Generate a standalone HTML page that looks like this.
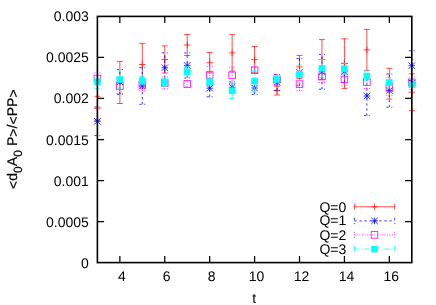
<!DOCTYPE html>
<html><head><meta charset="utf-8"><title>plot</title>
<style>html,body{margin:0;padding:0;background:#fff;}body{width:436px;height:305px;overflow:hidden;font-family:"Liberation Sans",sans-serif;}</style>
</head><body>
<svg width="436" height="305" viewBox="0 0 436 305" style="display:block;will-change:transform">
<rect width="436" height="305" fill="#fff"/>
<g font-family="Liberation Sans, sans-serif" font-size="14" fill="#000" text-rendering="geometricPrecision">
<text x="88.8" y="267.60" text-anchor="end">0</text>
<text x="88.8" y="226.57" text-anchor="end">0.0005</text>
<text x="88.8" y="185.53" text-anchor="end">0.001</text>
<text x="88.8" y="144.50" text-anchor="end">0.0015</text>
<text x="88.8" y="103.47" text-anchor="end">0.002</text>
<text x="88.8" y="62.43" text-anchor="end">0.0025</text>
<text x="88.8" y="20.50" text-anchor="end">0.003</text>
<text x="121.86" y="281.1" text-anchor="middle">4</text>
<text x="166.77" y="281.1" text-anchor="middle">6</text>
<text x="211.69" y="281.1" text-anchor="middle">8</text>
<text x="256.60" y="281.1" text-anchor="middle">10</text>
<text x="301.51" y="281.1" text-anchor="middle">12</text>
<text x="346.43" y="281.1" text-anchor="middle">14</text>
<text x="391.34" y="281.1" text-anchor="middle">16</text>
<text x="254.3" y="303" text-anchor="middle">t</text>
<text transform="translate(17.2,189.0) rotate(-90)" letter-spacing="0.05" stroke="#000" stroke-width="0.2"><tspan dy="1.2">&lt;</tspan><tspan dy="-1.2">d</tspan><tspan font-size="12" dy="4.4">0</tspan><tspan dy="-4.4">A</tspan><tspan font-size="12" dy="4.4">0</tspan><tspan dy="-4.4"> P</tspan><tspan dy="1.2">&gt;</tspan><tspan dy="-1.2">/</tspan><tspan dy="1.2">&lt;</tspan><tspan dy="-1.2">PP</tspan><tspan dy="1.2">&gt;</tspan></text>
<text x="346.3" y="211.5" text-anchor="end">Q=0</text>
<text x="346.3" y="225.3" text-anchor="end">Q=1</text>
<text x="346.3" y="239.8" text-anchor="end">Q=2</text>
<text x="346.3" y="253.8" text-anchor="end">Q=3</text>
</g>
<g>
<path d="M354.40 206.80H394.70M354.40 203.80V209.80M394.70 203.80V209.80" stroke="#ff0000" stroke-width="0.7" fill="none"/>
<path d="M371.20 206.80H377.80M374.50 203.50V210.10" stroke="#ff0000" stroke-width="0.7" fill="none"/>
<path d="M97.40 120.30V96.30M94.40 120.30H100.40M94.40 96.30H100.40" stroke="#ff0000" stroke-width="0.7" fill="none"/>
<path d="M94.10 108.30H100.70M97.40 105.00V111.60" stroke="#ff0000" stroke-width="0.7" fill="none"/>
<path d="M119.86 103.50V61.50M116.86 103.50H122.86M116.86 61.50H122.86" stroke="#ff0000" stroke-width="0.7" fill="none"/>
<path d="M116.56 82.50H123.16M119.86 79.20V85.80" stroke="#ff0000" stroke-width="0.7" fill="none"/>
<path d="M142.31 85.60V43.40M139.31 85.60H145.31M139.31 43.40H145.31" stroke="#ff0000" stroke-width="0.7" fill="none"/>
<path d="M139.01 64.50H145.61M142.31 61.20V67.80" stroke="#ff0000" stroke-width="0.7" fill="none"/>
<path d="M164.77 73.10V45.90M161.77 73.10H167.77M161.77 45.90H167.77" stroke="#ff0000" stroke-width="0.7" fill="none"/>
<path d="M161.47 59.50H168.07M164.77 56.20V62.80" stroke="#ff0000" stroke-width="0.7" fill="none"/>
<path d="M187.23 55.50V34.50M184.23 55.50H190.23M184.23 34.50H190.23" stroke="#ff0000" stroke-width="0.7" fill="none"/>
<path d="M183.93 45.00H190.53M187.23 41.70V48.30" stroke="#ff0000" stroke-width="0.7" fill="none"/>
<path d="M209.69 72.90V52.50M206.69 72.90H212.69M206.69 52.50H212.69" stroke="#ff0000" stroke-width="0.7" fill="none"/>
<path d="M206.39 62.70H212.99M209.69 59.40V66.00" stroke="#ff0000" stroke-width="0.7" fill="none"/>
<path d="M232.14 71.20V34.60M229.14 71.20H235.14M229.14 34.60H235.14" stroke="#ff0000" stroke-width="0.7" fill="none"/>
<path d="M228.84 52.90H235.44M232.14 49.60V56.20" stroke="#ff0000" stroke-width="0.7" fill="none"/>
<path d="M254.60 72.20V46.50M251.60 72.20H257.60M251.60 46.50H257.60" stroke="#ff0000" stroke-width="0.7" fill="none"/>
<path d="M251.30 59.60H257.90M254.60 56.30V62.90" stroke="#ff0000" stroke-width="0.7" fill="none"/>
<path d="M277.06 95.00V86.20M274.06 95.00H280.06M274.06 86.20H280.06" stroke="#ff0000" stroke-width="0.7" fill="none"/>
<path d="M273.76 90.60H280.36M277.06 87.30V93.90" stroke="#ff0000" stroke-width="0.7" fill="none"/>
<path d="M299.51 78.40V55.40M296.51 78.40H302.51M296.51 55.40H302.51" stroke="#ff0000" stroke-width="0.7" fill="none"/>
<path d="M296.21 66.90H302.81M299.51 63.60V70.20" stroke="#ff0000" stroke-width="0.7" fill="none"/>
<path d="M321.97 79.40V39.60M318.97 79.40H324.97M318.97 39.60H324.97" stroke="#ff0000" stroke-width="0.7" fill="none"/>
<path d="M318.67 59.50H325.27M321.97 56.20V62.80" stroke="#ff0000" stroke-width="0.7" fill="none"/>
<path d="M344.43 88.40V38.80M341.43 88.40H347.43M341.43 38.80H347.43" stroke="#ff0000" stroke-width="0.7" fill="none"/>
<path d="M341.13 63.60H347.73M344.43 60.30V66.90" stroke="#ff0000" stroke-width="0.7" fill="none"/>
<path d="M366.89 70.40V29.40M363.89 70.40H369.89M363.89 29.40H369.89" stroke="#ff0000" stroke-width="0.7" fill="none"/>
<path d="M363.59 49.90H370.19M366.89 46.60V53.20" stroke="#ff0000" stroke-width="0.7" fill="none"/>
<path d="M389.34 99.10V68.30M386.34 99.10H392.34M386.34 68.30H392.34" stroke="#ff0000" stroke-width="0.7" fill="none"/>
<path d="M386.04 83.70H392.64M389.34 80.40V87.00" stroke="#ff0000" stroke-width="0.7" fill="none"/>
<path d="M411.80 110.60V73.80M408.80 110.60H414.80M408.80 73.80H414.80" stroke="#ff0000" stroke-width="0.7" fill="none"/>
<path d="M408.50 92.20H415.10M411.80 88.90V95.50" stroke="#ff0000" stroke-width="0.7" fill="none"/>
</g>
<g>
<path d="M354.40 220.90H394.70M354.40 217.90V223.90M394.70 217.90V223.90" stroke="#0000ff" stroke-width="0.8" fill="none" stroke-dasharray="2.30 2.70"/>
<path d="M371.20 220.90H377.80M374.50 217.60V224.20M371.20 217.60L377.80 224.20M371.20 224.20L377.80 217.60" stroke="#0000ff" stroke-width="0.8" fill="none"/>
<path d="M97.40 135.60V107.00M94.40 135.60H100.40M94.40 107.00H100.40" stroke="#0000ff" stroke-width="0.8" fill="none" stroke-dasharray="2.30 2.70"/>
<path d="M94.10 121.30H100.70M97.40 118.00V124.60M94.10 118.00L100.70 124.60M94.10 124.60L100.70 118.00" stroke="#0000ff" stroke-width="0.8" fill="none"/>
<path d="M119.86 94.30V69.50M116.86 94.30H122.86M116.86 69.50H122.86" stroke="#0000ff" stroke-width="0.8" fill="none" stroke-dasharray="2.30 2.70"/>
<path d="M116.56 81.90H123.16M119.86 78.60V85.20M116.56 78.60L123.16 85.20M116.56 85.20L123.16 78.60" stroke="#0000ff" stroke-width="0.8" fill="none"/>
<path d="M142.31 104.30V67.70M139.31 104.30H145.31M139.31 67.70H145.31" stroke="#0000ff" stroke-width="0.8" fill="none" stroke-dasharray="2.30 2.70"/>
<path d="M139.01 86.00H145.61M142.31 82.70V89.30M139.01 82.70L145.61 89.30M139.01 89.30L145.61 82.70" stroke="#0000ff" stroke-width="0.8" fill="none"/>
<path d="M164.77 82.70V52.90M161.77 82.70H167.77M161.77 52.90H167.77" stroke="#0000ff" stroke-width="0.8" fill="none" stroke-dasharray="2.30 2.70"/>
<path d="M161.47 67.80H168.07M164.77 64.50V71.10M161.47 64.50L168.07 71.10M161.47 71.10L168.07 64.50" stroke="#0000ff" stroke-width="0.8" fill="none"/>
<path d="M187.23 77.90V52.90M184.23 77.90H190.23M184.23 52.90H190.23" stroke="#0000ff" stroke-width="0.8" fill="none" stroke-dasharray="2.30 2.70"/>
<path d="M183.93 65.40H190.53M187.23 62.10V68.70M183.93 62.10L190.53 68.70M183.93 68.70L190.53 62.10" stroke="#0000ff" stroke-width="0.8" fill="none"/>
<path d="M209.69 96.80V79.60M206.69 96.80H212.69M206.69 79.60H212.69" stroke="#0000ff" stroke-width="0.8" fill="none" stroke-dasharray="2.30 2.70"/>
<path d="M206.39 88.20H212.99M209.69 84.90V91.50M206.39 84.90L212.99 91.50M206.39 91.50L212.99 84.90" stroke="#0000ff" stroke-width="0.8" fill="none"/>
<path d="M232.14 92.70V81.90M229.14 92.70H235.14M229.14 81.90H235.14" stroke="#0000ff" stroke-width="0.8" fill="none" stroke-dasharray="2.30 2.70"/>
<path d="M228.84 87.30H235.44M232.14 84.00V90.60M228.84 84.00L235.44 90.60M228.84 90.60L235.44 84.00" stroke="#0000ff" stroke-width="0.8" fill="none"/>
<path d="M254.60 94.30V81.70M251.60 94.30H257.60M251.60 81.70H257.60" stroke="#0000ff" stroke-width="0.8" fill="none" stroke-dasharray="2.30 2.70"/>
<path d="M251.30 88.00H257.90M254.60 84.70V91.30M251.30 84.70L257.90 91.30M251.30 91.30L257.90 84.70" stroke="#0000ff" stroke-width="0.8" fill="none"/>
<path d="M277.06 90.50V74.50M274.06 90.50H280.06M274.06 74.50H280.06" stroke="#0000ff" stroke-width="0.8" fill="none" stroke-dasharray="2.30 2.70"/>
<path d="M273.76 82.50H280.36M277.06 79.20V85.80M273.76 79.20L280.36 85.80M273.76 85.80L280.36 79.20" stroke="#0000ff" stroke-width="0.8" fill="none"/>
<path d="M299.51 85.80V58.60M296.51 85.80H302.51M296.51 58.60H302.51" stroke="#0000ff" stroke-width="0.8" fill="none" stroke-dasharray="2.30 2.70"/>
<path d="M296.21 72.20H302.81M299.51 68.90V75.50M296.21 68.90L302.81 75.50M296.21 75.50L302.81 68.90" stroke="#0000ff" stroke-width="0.8" fill="none"/>
<path d="M321.97 89.20V54.40M318.97 89.20H324.97M318.97 54.40H324.97" stroke="#0000ff" stroke-width="0.8" fill="none" stroke-dasharray="2.30 2.70"/>
<path d="M318.67 71.80H325.27M321.97 68.50V75.10M318.67 68.50L325.27 75.10M318.67 75.10L325.27 68.50" stroke="#0000ff" stroke-width="0.8" fill="none"/>
<path d="M344.43 82.40V63.30M341.43 82.40H347.43M341.43 63.30H347.43" stroke="#0000ff" stroke-width="0.8" fill="none" stroke-dasharray="2.30 2.70"/>
<path d="M341.13 71.80H347.73M344.43 68.50V75.10M341.13 68.50L347.73 75.10M341.13 75.10L347.73 68.50" stroke="#0000ff" stroke-width="0.8" fill="none"/>
<path d="M366.89 115.60V76.40M363.89 115.60H369.89M363.89 76.40H369.89" stroke="#0000ff" stroke-width="0.8" fill="none" stroke-dasharray="2.30 2.70"/>
<path d="M363.59 96.00H370.19M366.89 92.70V99.30M363.59 92.70L370.19 99.30M363.59 99.30L370.19 92.70" stroke="#0000ff" stroke-width="0.8" fill="none"/>
<path d="M389.34 107.20V74.00M386.34 107.20H392.34M386.34 74.00H392.34" stroke="#0000ff" stroke-width="0.8" fill="none" stroke-dasharray="2.30 2.70"/>
<path d="M386.04 90.60H392.64M389.34 87.30V93.90M386.04 87.30L392.64 93.90M386.04 93.90L392.64 87.30" stroke="#0000ff" stroke-width="0.8" fill="none"/>
<path d="M411.80 80.60V50.80M408.80 80.60H414.80M408.80 50.80H414.80" stroke="#0000ff" stroke-width="0.8" fill="none" stroke-dasharray="2.30 2.70"/>
<path d="M408.50 65.70H415.10M411.80 62.40V69.00M408.50 62.40L415.10 69.00M408.50 69.00L415.10 62.40" stroke="#0000ff" stroke-width="0.8" fill="none"/>
</g>
<g>
<path d="M354.40 234.90H394.70M354.40 231.90V237.90M394.70 231.90V237.90" stroke="#ff00ff" stroke-width="0.8" fill="none" stroke-dasharray="1.00 1.50"/>
<rect x="371.20" y="231.60" width="6.60" height="6.60" stroke="#ff00ff" stroke-width="0.8" fill="none"/>
<path d="M97.40 84.20V72.80M94.40 84.20H100.40M94.40 72.80H100.40" stroke="#ff00ff" stroke-width="0.8" fill="none" stroke-dasharray="1.00 1.50"/>
<rect x="94.10" y="75.20" width="6.60" height="6.60" stroke="#ff00ff" stroke-width="0.8" fill="none"/>
<path d="M119.86 93.50V78.90M116.86 93.50H122.86M116.86 78.90H122.86" stroke="#ff00ff" stroke-width="0.8" fill="none" stroke-dasharray="1.00 1.50"/>
<rect x="116.56" y="82.90" width="6.60" height="6.60" stroke="#ff00ff" stroke-width="0.8" fill="none"/>
<path d="M142.31 90.40V79.20M139.31 90.40H145.31M139.31 79.20H145.31" stroke="#ff00ff" stroke-width="0.8" fill="none" stroke-dasharray="1.00 1.50"/>
<rect x="139.01" y="81.50" width="6.60" height="6.60" stroke="#ff00ff" stroke-width="0.8" fill="none"/>
<path d="M164.77 88.90V77.10M161.77 88.90H167.77M161.77 77.10H167.77" stroke="#ff00ff" stroke-width="0.8" fill="none" stroke-dasharray="1.00 1.50"/>
<rect x="161.47" y="79.70" width="6.60" height="6.60" stroke="#ff00ff" stroke-width="0.8" fill="none"/>
<path d="M187.23 87.40V80.60M184.23 87.40H190.23M184.23 80.60H190.23" stroke="#ff00ff" stroke-width="0.8" fill="none" stroke-dasharray="1.00 1.50"/>
<rect x="183.93" y="80.70" width="6.60" height="6.60" stroke="#ff00ff" stroke-width="0.8" fill="none"/>
<path d="M209.69 83.50V66.50M206.69 83.50H212.69M206.69 66.50H212.69" stroke="#ff00ff" stroke-width="0.8" fill="none" stroke-dasharray="1.00 1.50"/>
<rect x="206.39" y="71.70" width="6.60" height="6.60" stroke="#ff00ff" stroke-width="0.8" fill="none"/>
<path d="M232.14 83.50V67.30M229.14 83.50H235.14M229.14 67.30H235.14" stroke="#ff00ff" stroke-width="0.8" fill="none" stroke-dasharray="1.00 1.50"/>
<rect x="228.84" y="72.10" width="6.60" height="6.60" stroke="#ff00ff" stroke-width="0.8" fill="none"/>
<path d="M254.60 73.50V67.10M251.60 73.50H257.60M251.60 67.10H257.60" stroke="#ff00ff" stroke-width="0.8" fill="none" stroke-dasharray="1.00 1.50"/>
<rect x="251.30" y="67.00" width="6.60" height="6.60" stroke="#ff00ff" stroke-width="0.8" fill="none"/>
<path d="M277.06 84.50V74.50M274.06 84.50H280.06M274.06 74.50H280.06" stroke="#ff00ff" stroke-width="0.8" fill="none" stroke-dasharray="1.00 1.50"/>
<rect x="273.76" y="76.20" width="6.60" height="6.60" stroke="#ff00ff" stroke-width="0.8" fill="none"/>
<path d="M299.51 90.60V77.60M296.51 90.60H302.51M296.51 77.60H302.51" stroke="#ff00ff" stroke-width="0.8" fill="none" stroke-dasharray="1.00 1.50"/>
<rect x="296.21" y="80.80" width="6.60" height="6.60" stroke="#ff00ff" stroke-width="0.8" fill="none"/>
<path d="M321.97 82.60V70.60M318.97 82.60H324.97M318.97 70.60H324.97" stroke="#ff00ff" stroke-width="0.8" fill="none" stroke-dasharray="1.00 1.50"/>
<rect x="318.67" y="73.30" width="6.60" height="6.60" stroke="#ff00ff" stroke-width="0.8" fill="none"/>
<path d="M344.43 85.60V73.40M341.43 85.60H347.43M341.43 73.40H347.43" stroke="#ff00ff" stroke-width="0.8" fill="none" stroke-dasharray="1.00 1.50"/>
<rect x="341.13" y="76.20" width="6.60" height="6.60" stroke="#ff00ff" stroke-width="0.8" fill="none"/>
<path d="M366.89 88.50V75.90M363.89 88.50H369.89M363.89 75.90H369.89" stroke="#ff00ff" stroke-width="0.8" fill="none" stroke-dasharray="1.00 1.50"/>
<rect x="363.59" y="78.90" width="6.60" height="6.60" stroke="#ff00ff" stroke-width="0.8" fill="none"/>
<path d="M389.34 95.60V80.00M386.34 95.60H392.34M386.34 80.00H392.34" stroke="#ff00ff" stroke-width="0.8" fill="none" stroke-dasharray="1.00 1.50"/>
<rect x="386.04" y="84.50" width="6.60" height="6.60" stroke="#ff00ff" stroke-width="0.8" fill="none"/>
<path d="M411.80 87.70V77.10M408.80 87.70H414.80M408.80 77.10H414.80" stroke="#ff00ff" stroke-width="0.8" fill="none" stroke-dasharray="1.00 1.50"/>
<rect x="408.50" y="79.10" width="6.60" height="6.60" stroke="#ff00ff" stroke-width="0.8" fill="none"/>
</g>
<g>
<path d="M354.40 249.10H394.70M354.40 246.10V252.10M394.70 246.10V252.10" stroke="#00ffff" stroke-width="0.8" fill="none" stroke-dasharray="5.00 2.00 1.00 2.00"/>
<rect x="371.20" y="245.80" width="6.60" height="6.60" fill="#00ffff"/>
<path d="M97.40 88.80V79.20M94.40 88.80H100.40M94.40 79.20H100.40" stroke="#00ffff" stroke-width="0.8" fill="none" stroke-dasharray="5.00 2.00 1.00 2.00"/>
<rect x="94.10" y="78.40" width="6.60" height="6.60" fill="#00ffff"/>
<path d="M119.86 89.00V70.00M116.86 89.00H122.86M116.86 70.00H122.86" stroke="#00ffff" stroke-width="0.8" fill="none" stroke-dasharray="5.00 2.00 1.00 2.00"/>
<rect x="116.56" y="76.20" width="6.60" height="6.60" fill="#00ffff"/>
<path d="M142.31 84.90V76.50M139.31 84.90H145.31M139.31 76.50H145.31" stroke="#00ffff" stroke-width="0.8" fill="none" stroke-dasharray="5.00 2.00 1.00 2.00"/>
<rect x="139.01" y="77.40" width="6.60" height="6.60" fill="#00ffff"/>
<path d="M164.77 86.30V78.30M161.77 86.30H167.77M161.77 78.30H167.77" stroke="#00ffff" stroke-width="0.8" fill="none" stroke-dasharray="5.00 2.00 1.00 2.00"/>
<rect x="161.47" y="79.00" width="6.60" height="6.60" fill="#00ffff"/>
<path d="M187.23 77.50V66.30M184.23 77.50H190.23M184.23 66.30H190.23" stroke="#00ffff" stroke-width="0.8" fill="none" stroke-dasharray="5.00 2.00 1.00 2.00"/>
<rect x="183.93" y="68.60" width="6.60" height="6.60" fill="#00ffff"/>
<path d="M209.69 85.50V77.90M206.69 85.50H212.69M206.69 77.90H212.69" stroke="#00ffff" stroke-width="0.8" fill="none" stroke-dasharray="5.00 2.00 1.00 2.00"/>
<rect x="206.39" y="78.40" width="6.60" height="6.60" fill="#00ffff"/>
<path d="M232.14 98.50V83.10M229.14 98.50H235.14M229.14 83.10H235.14" stroke="#00ffff" stroke-width="0.8" fill="none" stroke-dasharray="5.00 2.00 1.00 2.00"/>
<rect x="228.84" y="87.50" width="6.60" height="6.60" fill="#00ffff"/>
<path d="M254.60 91.80V70.20M251.60 91.80H257.60M251.60 70.20H257.60" stroke="#00ffff" stroke-width="0.8" fill="none" stroke-dasharray="5.00 2.00 1.00 2.00"/>
<rect x="251.30" y="77.70" width="6.60" height="6.60" fill="#00ffff"/>
<path d="M277.06 82.30V76.30M274.06 82.30H280.06M274.06 76.30H280.06" stroke="#00ffff" stroke-width="0.8" fill="none" stroke-dasharray="5.00 2.00 1.00 2.00"/>
<rect x="273.76" y="76.00" width="6.60" height="6.60" fill="#00ffff"/>
<path d="M299.51 83.50V65.30M296.51 83.50H302.51M296.51 65.30H302.51" stroke="#00ffff" stroke-width="0.8" fill="none" stroke-dasharray="5.00 2.00 1.00 2.00"/>
<rect x="296.21" y="71.10" width="6.60" height="6.60" fill="#00ffff"/>
<path d="M321.97 77.30V59.50M318.97 77.30H324.97M318.97 59.50H324.97" stroke="#00ffff" stroke-width="0.8" fill="none" stroke-dasharray="5.00 2.00 1.00 2.00"/>
<rect x="318.67" y="65.10" width="6.60" height="6.60" fill="#00ffff"/>
<path d="M344.43 74.10V63.30M341.43 74.10H347.43M341.43 63.30H347.43" stroke="#00ffff" stroke-width="0.8" fill="none" stroke-dasharray="5.00 2.00 1.00 2.00"/>
<rect x="341.13" y="65.40" width="6.60" height="6.60" fill="#00ffff"/>
<path d="M366.89 81.00V71.00M363.89 81.00H369.89M363.89 71.00H369.89" stroke="#00ffff" stroke-width="0.8" fill="none" stroke-dasharray="5.00 2.00 1.00 2.00"/>
<rect x="363.59" y="72.70" width="6.60" height="6.60" fill="#00ffff"/>
<path d="M389.34 87.90V77.50M386.34 87.90H392.34M386.34 77.50H392.34" stroke="#00ffff" stroke-width="0.8" fill="none" stroke-dasharray="5.00 2.00 1.00 2.00"/>
<rect x="386.04" y="79.40" width="6.60" height="6.60" fill="#00ffff"/>
<path d="M411.80 89.60V79.00M408.80 89.60H414.80M408.80 79.00H414.80" stroke="#00ffff" stroke-width="0.8" fill="none" stroke-dasharray="5.00 2.00 1.00 2.00"/>
<rect x="408.50" y="81.00" width="6.60" height="6.60" fill="#00ffff"/>
</g>
<g stroke="#000" stroke-width="1.6" fill="none">
<rect x="97.4" y="16.4" width="314.4" height="246.20000000000002"/>
<path stroke-width="1.25" d="M97.4 221.57h6.7M411.8 221.57h-6.7M97.4 180.53h6.7M411.8 180.53h-6.7M97.4 139.50h6.7M411.8 139.50h-6.7M97.4 98.47h6.7M411.8 98.47h-6.7M97.4 57.43h6.7M411.8 57.43h-6.7M119.86 262.6v-6.7M119.86 16.4v6.7M164.77 262.6v-6.7M164.77 16.4v6.7M209.69 262.6v-6.7M209.69 16.4v6.7M254.60 262.6v-6.7M254.60 16.4v6.7M299.51 262.6v-6.7M299.51 16.4v6.7M344.43 262.6v-6.7M344.43 16.4v6.7M389.34 262.6v-6.7M389.34 16.4v6.7"/>
</g>
</svg>
</body></html>
